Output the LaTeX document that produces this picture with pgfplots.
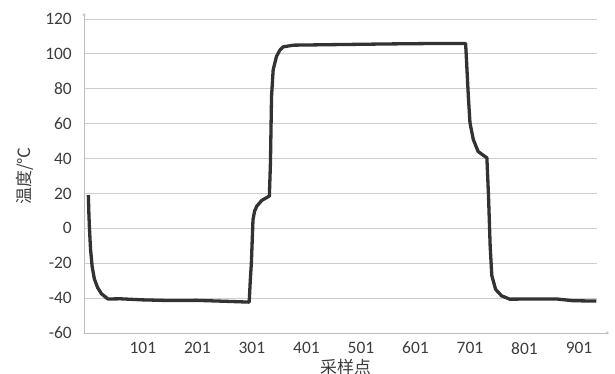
\documentclass[border=0pt]{standalone}
\usepackage{pgfplots}
\pgfplotsset{compat=1.18}
\usetikzlibrary{arrows.meta}
\usepackage{fontspec}
\setmainfont{Carlito}
\newfontfamily\cjk{Noto Sans CJK SC}
\definecolor{gridc}{RGB}{205,205,205}
\definecolor{axc}{RGB}{190,190,190}
\definecolor{linec}{RGB}{50,50,50}
\definecolor{txtc}{RGB}{60,60,60}
\begin{document}
\begin{tikzpicture}
\useasboundingbox (-84bp,-41bp) rectangle (531bp,333bp);
\begin{axis}[
  scale only axis,
  width=513bp, height=314bp,
  xmin=-7, xmax=934,
  ymin=-60, ymax=120,
  ytick={-60,-40,...,120},
  xtick={101,201,301,401,501,601,701,801,901},
  major tick length=0pt,
  axis lines=left,
  x axis line style={axc, line width=0.8bp, -{Stealth[length=3bp,width=3bp]}, shorten >=-12bp},
  y axis line style={axc, line width=0.8bp, -{Stealth[length=3bp,width=3bp]}, shorten >=-6bp},
  ymajorgrids,
  grid style={gridc, line width=0.8bp},
  tick label style={font=\fontsize{17.5}{20}\selectfont, text=txtc},
  /pgf/number format/assume math mode=true,
  yticklabel style={inner sep=0pt, xshift=-12bp, anchor=east},
  xticklabel style={inner sep=0pt, yshift=-9bp, anchor=north},
  xlabel={\cjk 采样点},
  ylabel={\cjk 温度/℃},
  label style={font=\fontsize{17}{20}\selectfont, text=txtc},
  xlabel style={at={(axis description cs:0.51,0)}, anchor=north, yshift=-26bp, inner sep=0pt},
  ylabel style={at={(axis description cs:-0.115,0.5)}, anchor=center, inner sep=0pt},
]
\addplot[linec, line width=3.3bp, line join=round] coordinates {
(1,19) (2,8) (3,0) (5,-12) (8,-22) (12,-29) (18,-34) (25,-37.5) (37,-40.5)
(60,-40.4) (100,-41) (150,-41.4) (200,-41.3) (250,-41.8) (296,-42.3)
(298,-30) (300,-19.9) (303,5) (306,10) (310,12.7) (319,16) (333,18.5)
(335,37.5) (337,75.6) (340,90.9) (346,98.5) (352,102) (358,104) (377,105)
(450,105.3) (550,105.7) (650,106) (693,106)
(695,94) (698,75.6) (701,60.5) (707,51) (716,44) (732,40.4)
(735,18.5) (738,-10) (741,-27) (748,-35) (759,-38.7) (774,-40.6)
(820,-40.5) (860,-40.5) (890,-41.5) (933,-41.7)
};
\end{axis}
\end{tikzpicture}
\end{document}
